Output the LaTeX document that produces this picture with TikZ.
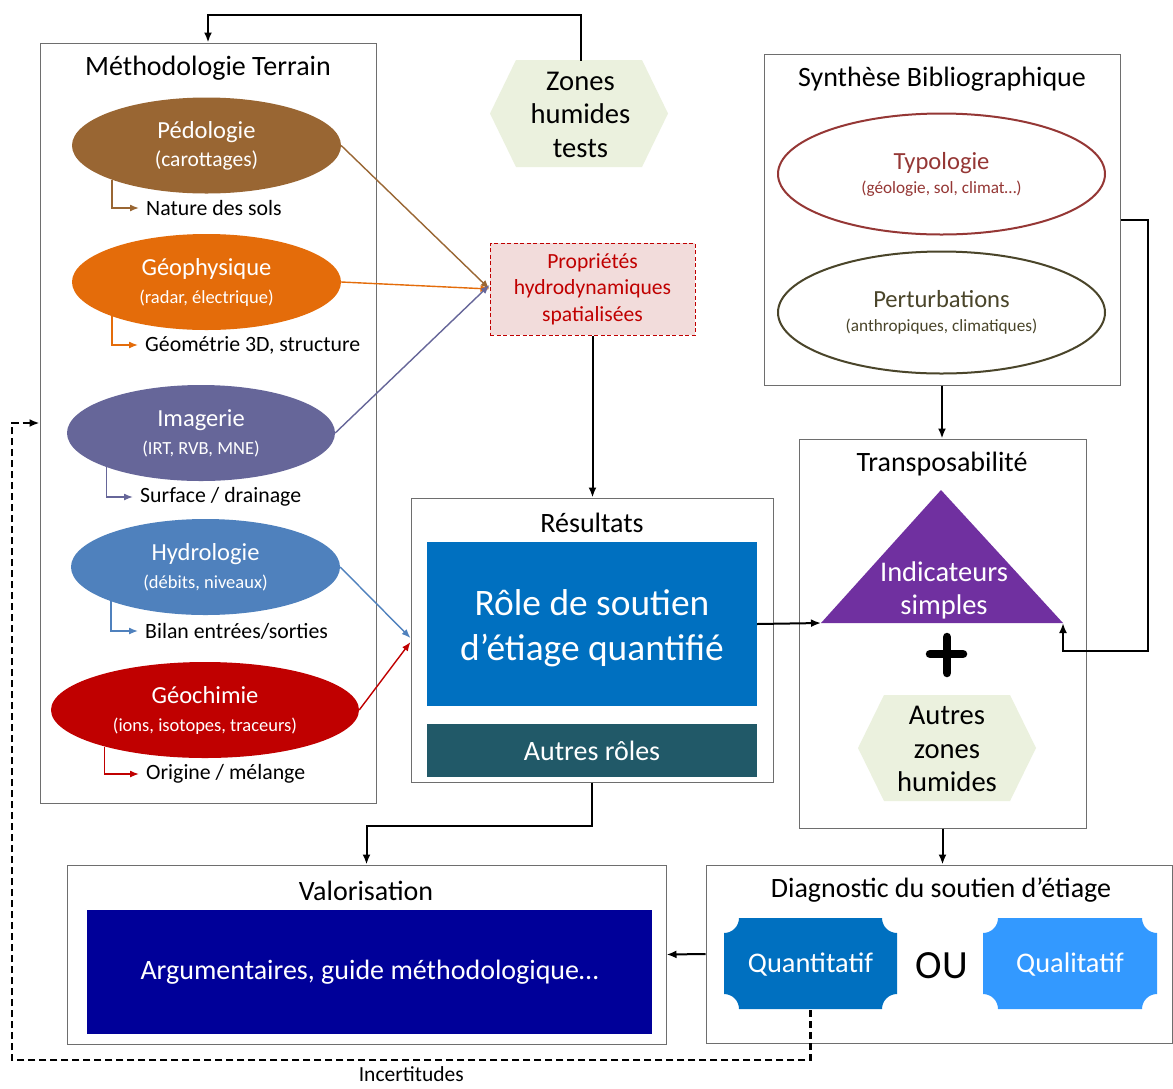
\documentclass[tikz,border=0pt]{standalone}
\usepackage{fontspec}
\setmainfont{Carlito}
\usepackage{xcolor}
\usepackage{tikz}
\usetikzlibrary{shapes.geometric,arrows.meta}

\definecolor{pedocol}{HTML}{996633}
\definecolor{geocol}{HTML}{E46C0A}
\definecolor{imacol}{HTML}{666699}
\definecolor{hydcol}{HTML}{4F81BD}
\definecolor{chimcol}{HTML}{C00000}
\definecolor{propfond}{HTML}{F2DCDB}
\definecolor{hexfond}{HTML}{EBF1DE}
\definecolor{rolecol}{HTML}{0070C0}
\definecolor{autrecol}{HTML}{215968}
\definecolor{valcol}{HTML}{000099}
\definecolor{typocol}{HTML}{953735}
\definecolor{pertcol}{HTML}{4A452A}
\definecolor{indiccol}{HTML}{7030A0}
\definecolor{qualcol}{HTML}{3399FF}
\definecolor{cadrecol}{HTML}{6E6E6E}

\newcommand{\petit}{\fontsize{18.5}{22}\selectfont}
% plaque : x1, y1, x2, y2, couleur
\newcommand{\plaque}[5]{\fill[#5] ({#1+15},#2) -- ({#3-15},#2) arc[start angle=180,end angle=90,radius=15] -- (#3,{#4-15}) arc[start angle=270,end angle=180,radius=15] -- ({#1+15},#4) arc[start angle=0,end angle=-90,radius=15] -- (#1,{#2+15}) arc[start angle=90,end angle=0,radius=15] -- cycle;}
% hexagone : cx, cy, demi-largeur, demi-hauteur
\newcommand{\hexa}[4]{\fill[hexfond] ({#1-#3},#2) -- ({#1-#3+26},{#2-#4}) -- ({#1+#3-26},{#2-#4}) -- ({#1+#3},#2) -- ({#1+#3-26},{#2+#4}) -- ({#1-#3+26},{#2+#4}) -- cycle;}

\tikzset{
	groupe/.style={draw=cadrecol, line width=1pt},
	titre/.style={font=\fontsize{28}{32}\selectfont},
	champ/.style={ellipse, inner sep=0pt, minimum height=96pt, text=white, align=center, font=\fontsize{24.5}{28}\selectfont},
	etiq/.style={anchor=west, inner sep=7pt, font=\fontsize{21.8}{25}\selectfont},
	fleche/.style={-{Latex[length=10pt,width=8pt]}, line width=2pt},
	fine/.style={-{Latex[length=9pt,width=7pt]}, line width=1.4pt},
}

\begin{document}
\begin{tikzpicture}[x=1pt, y=-1pt]
	\path[use as bounding box, fill=white] (0,0) rectangle (1173,1088);
	% Méthodologie terrain
	\node[groupe, minimum width=336pt, minimum height=760pt] (terrain) at (208,423) {};
	\node[titre] (tterrain) at (208,68) {Méthodologie Terrain};
	\node[champ, fill=pedocol, minimum width=269pt] (pedo) at (206.5,145.5) {Pédologie\\{\fontsize{21.5}{22}\selectfont (carottages)}};
	\node[champ, fill=geocol, minimum width=269pt] (geo) at (206.5,282) {Géophysique\\{\petit (radar, électrique)}};
	\node[champ, fill=imacol, minimum width=268pt] (ima) at (201,433) {Imagerie\\{\petit (IRT, RVB, MNE)}};
	\node[champ, fill=hydcol, minimum width=269pt] (hyd) at (205.5,567) {Hydrologie\\{\petit (débits, niveaux)}};
	\node[champ, fill=chimcol, minimum width=308pt] (chim) at (205,710) {Géochimie\\{\petit (ions, isotopes, traceurs)}};
	\node[etiq] (natsol) at (139,208) {Nature des sols};
	\node[etiq] (geom) at (138,345) {Géométrie 3D, structure};
	\node[etiq] (surf) at (133,497) {Surface / drainage};
	\node[etiq] (bilan) at (138,631) {Bilan entrées/sorties};
	\node[etiq] (orig) at (139,774) {Origine / mélange};
	\foreach \src/\dst/\col in {pedo/natsol/pedocol, geo/geom/geocol, ima/surf/imacol, hyd/bilan/hydcol, chim/orig/chimcol}
		\draw[fine, \col] (\src.200) |- (\dst.west);

	% Zones humides tests et propriétés
	\hexa{579}{113.5}{89}{53.5}
	\node[align=center, font=\fontsize{28.6}{33.5}\selectfont, minimum width=178pt, minimum height=107pt] (zht) at (580.5,114.5) {Zones\\humides\\tests};
	\node[draw=chimcol, dash pattern=on 4pt off 2.5pt, fill=propfond, line width=1pt, minimum width=205pt, minimum height=92pt, text=chimcol, align=center, font=\fontsize{21.6}{26.5}\selectfont] (propr) at (592.5,289) {Propriétés\\hydrodynamiques\\spatialisées};

	% Synthèse bibliographique
	\node[groupe, minimum width=356pt, minimum height=331pt] (synth) at (942,219.5) {};
	\node[titre] (tsynth) at (942,79) {Synthèse Bibliographique};
	\node[ellipse, draw=typocol, line width=2pt, minimum width=327pt, minimum height=121pt, text=typocol, align=center, font=\fontsize{24.6}{25}\selectfont] (typo) at (941.5,174) {Typologie\\[-1pt]{\fontsize{17.2}{20}\selectfont (géologie, sol, climat…)}};
	\node[ellipse, draw=pertcol, line width=2pt, minimum width=327pt, minimum height=122pt, text=pertcol, align=center, font=\fontsize{24.6}{25}\selectfont] (pert) at (941.5,312.5) {Perturbations\\[-1pt]{\fontsize{17.2}{20}\selectfont (anthropiques, climatiques)}};

	% Résultats
	\node[groupe, minimum width=362pt, minimum height=284pt] (result) at (592,640) {};
	\node[titre] (tresult) at (592,523) {Résultats};
	\node[fill=rolecol, minimum width=330pt, minimum height=164pt] (role) at (592,624) {};
	\node[text=white, align=center, font=\fontsize{37.4}{45}\selectfont] (roletxt) at (592,628) {Rôle de soutien\\d’étiage quantifié};
	\node[fill=autrecol, text=white, minimum width=330pt, minimum height=53pt, font=\fontsize{28}{32}\selectfont] (autres) at (592,750.5) {Autres rôles};

	% Transposabilité
	\node[groupe, minimum width=287pt, minimum height=389pt] (transpo) at (942.5,633.5) {};
	\node[titre] (ttranspo) at (942,464) {Transposabilité};
	\coordinate (triT) at (941,490);
	\coordinate (triL) at (821,623);
	\coordinate (triR) at (1063,623);
	\fill[indiccol] (triT) -- (triR) -- (triL) -- cycle;
	\node[text=white, inner sep=0pt, align=center, font=\fontsize{28.5}{33}\selectfont] (indic) at (944,590) {Indicateurs\\simples};
	\draw[line width=8.5pt, line cap=round] (930,654) -- (963,654) (947,637) -- (947,673);
	\hexa{947}{748}{89}{53}
	\node[align=center, font=\fontsize{28.6}{33.5}\selectfont, minimum width=178pt, minimum height=106pt] (azh) at (947,749) {Autres\\zones\\humides};

	% Valorisation
	\node[groupe, minimum width=599pt, minimum height=179pt] (valor) at (366.5,954.5) {};
	\node[titre] (tvalor) at (366,891) {Valorisation};
	\node[fill=valcol, text=white, minimum width=565pt, minimum height=124pt, font=\fontsize{28}{32}\selectfont] (argu) at (369.5,972) {Argumentaires, guide méthodologique…};

	% Diagnostic
	\node[groupe, minimum width=466pt, minimum height=178pt] (diag) at (939,954) {};
	\node[titre] (tdiag) at (941,890) {Diagnostic du soutien d’étiage};
	\plaque{724}{918}{897}{1009}{rolecol}
	\node[text=white, font=\fontsize{28.4}{32}\selectfont, minimum width=173pt, minimum height=91pt] (quanti) at (810.5,964.5) {Quantitatif};
	\node[font=\fontsize{40}{48}\selectfont] (ou) at (942,966) {OU};
	\plaque{983}{918}{1157}{1009}{qualcol}
	\node[text=white, font=\fontsize{28.4}{32}\selectfont, minimum width=174pt, minimum height=91pt] (quali) at (1070,964.5) {Qualitatif};

	% Flèches
	\draw[fleche] (zht.north) -- ++(0,-46) -| (terrain.north);
	\draw[fine, pedocol] (pedo.east) -- (propr.west);
	\draw[fine, geocol] (geo.east) -- (propr.west);
	\draw[fine, imacol] (ima.east) -- ([yshift=4pt]propr.west);
	\draw[fine, hydcol] (hyd.east) -- ([yshift=2pt]result.west);
	\draw[fine, chimcol] (chim.east) -- ([yshift=-2pt]result.west);
	\draw[fleche] (propr.south) -- (propr.south |- result.north);
	\draw[fleche] (role.east) -- (triL);
	\draw[fleche] (synth.south) -- (synth.south |- transpo.north);
	\draw[fleche] (synth.east) -| (1148,651) -| (triR);
	\draw[fleche] (result.south) -- ++(0,43) -| (valor.north);
	\draw[fleche] (transpo.south) -- (transpo.south |- diag.north);
	\draw[fleche] (diag.west) -- (valor.east);
	\coordinate (incq) at (810.5,1060);
	\coordinate (incg) at (12,1060);
	\draw[fleche, line width=2.5pt, dash pattern=on 7pt off 4pt] (quanti.south) -- (incq) -- node[below=4pt, inner sep=1pt, font=\fontsize{21.5}{25}\selectfont] (incert) {Incertitudes} (incg) |- (terrain.west);
\end{tikzpicture}
\end{document}
